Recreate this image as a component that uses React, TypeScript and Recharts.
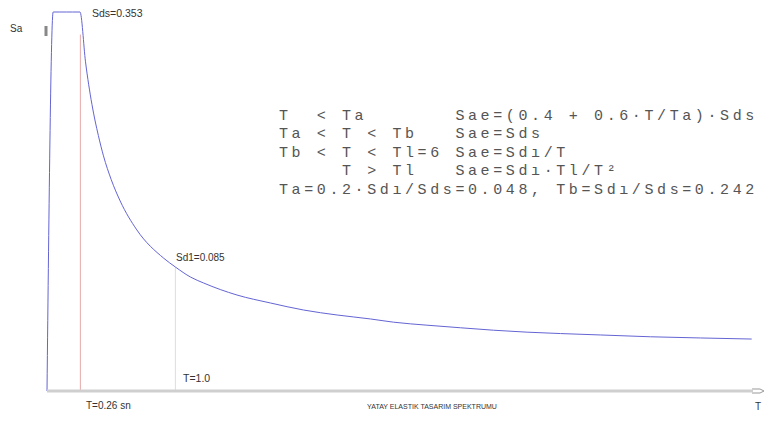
import React from 'react';
import {LineChart, Line, XAxis, YAxis, ReferenceLine, Customized} from 'recharts';

// periods T (sn) and spectral acceleration Sa
const periods = [0, 0.048, 0.1, 0.15, 0.2, 0.257, 0.3, 0.35, 0.4, 0.44, 0.5, 0.57, 0.7, 0.91, 1.0, 1.12, 1.22, 1.48, 1.74, 2.0, 2.26, 2.52, 2.7, 2.96, 3.22, 3.48, 3.74, 4.0, 4.31, 4.7, 5.09, 5.49];
const saValues = [0, 0.353, 0.353, 0.353, 0.353, 0.353, 0.3066, 0.267, 0.238, 0.219, 0.197, 0.177, 0.150, 0.1236, 0.1155, 0.106, 0.1006, 0.0894, 0.082, 0.0754, 0.0708, 0.0671, 0.0641, 0.0613, 0.0589, 0.0566, 0.0548, 0.0535, 0.0522, 0.0505, 0.0494, 0.0484];

const markerT = 0.26;
const markerSa = 0.332;
const oneT = 1.0;
const oneSa = 0.1155;

const formulaLines = [
  'T  < Ta       Sae=(0.4 + 0.6\u00b7T/Ta)\u00b7Sds',
  'Ta < T < Tb   Sae=Sds',
  'Tb < T < Tl=6 Sae=Sd\u0131/T',
  '     T > Tl   Sae=Sd\u0131\u00b7Tl/T\u00b2',
  'Ta=0.2\u00b7Sd\u0131/Sds=0.048, Tb=Sd\u0131/Sds=0.242',
];

const data = periods.map((t, i) => ({T: t, Sa: saValues[i]}));

const labelFont = '"Liberation Sans", Arial, sans-serif';

const Overlay = () => (
  <g>
    <text x={10} y={32} fontSize={10} fill="#333" fontFamily={labelFont}>Sa</text>
    <text x={92} y={17} fontSize={10.5} fill="#333" fontFamily={labelFont}>Sds=0.353</text>
    <text x={176} y={261} fontSize={10} fill="#333" fontFamily={labelFont}>Sd1=0.085</text>
    <text x={183} y={382} fontSize={10.5} fill="#333" fontFamily={labelFont}>T=1.0</text>
    <text x={86} y={409} fontSize={10} fill="#333" fontFamily={labelFont}>T=0.26 sn</text>
    <text x={432} y={409} fontSize={7} fill="#333" textAnchor="middle" fontFamily={labelFont}>YATAY ELASTIK TASARIM SPEKTRUMU</text>
    <text x={755} y={410} fontSize={10} fill="#333" fontFamily={labelFont}>T</text>
    <path d="M752,389 L760,389 L764,391 L760,393 L752,393" fill="none" stroke="#999" strokeWidth={1} />
    <rect x={44.5} y={26} width={3} height={10} fill="#888" />
    {formulaLines.map((line, i) => (
      <text
        key={i}
        x={279}
        y={120 + i * 18.4}
        fontSize={15}
        letterSpacing={3.6}
        fill="#555"
        fontFamily='"Liberation Mono", "Courier New", monospace'
        style={{whiteSpace: 'pre'}}
      >
        {line}
      </text>
    ))}
  </g>
);

export default function App() {
  return (
    <div style={{position: 'absolute', left: 0, top: 0, background: '#fff'}}>
      <LineChart width={776} height={421} data={data} margin={{top: 12, right: 23, bottom: 0, left: 47}}>
        <XAxis
          type="number"
          dataKey="T"
          domain={[0, 5.5]}
          height={30}
          tick={false}
          tickLine={false}
          axisLine={{stroke: '#cfcfcf', strokeWidth: 3}}
        />
        <YAxis
          type="number"
          domain={[0, 0.353]}
          width={0}
          tick={false}
          tickLine={false}
          axisLine={{stroke: '#c0c0c0', strokeWidth: 3}}
        />
        <ReferenceLine
          segment={[{x: markerT, y: 0}, {x: markerT, y: markerSa}]}
          stroke="#e6a8a8"
          strokeWidth={1}
        />
        <ReferenceLine
          segment={[{x: oneT, y: 0}, {x: oneT, y: oneSa}]}
          stroke="#dddddd"
          strokeWidth={1}
        />
        <Line
          type="monotone"
          dataKey="Sa"
          stroke="#6464d4"
          strokeWidth={1}
          dot={false}
          isAnimationActive={false}
        />
        <Customized component={Overlay} />
      </LineChart>
    </div>
  );
}
